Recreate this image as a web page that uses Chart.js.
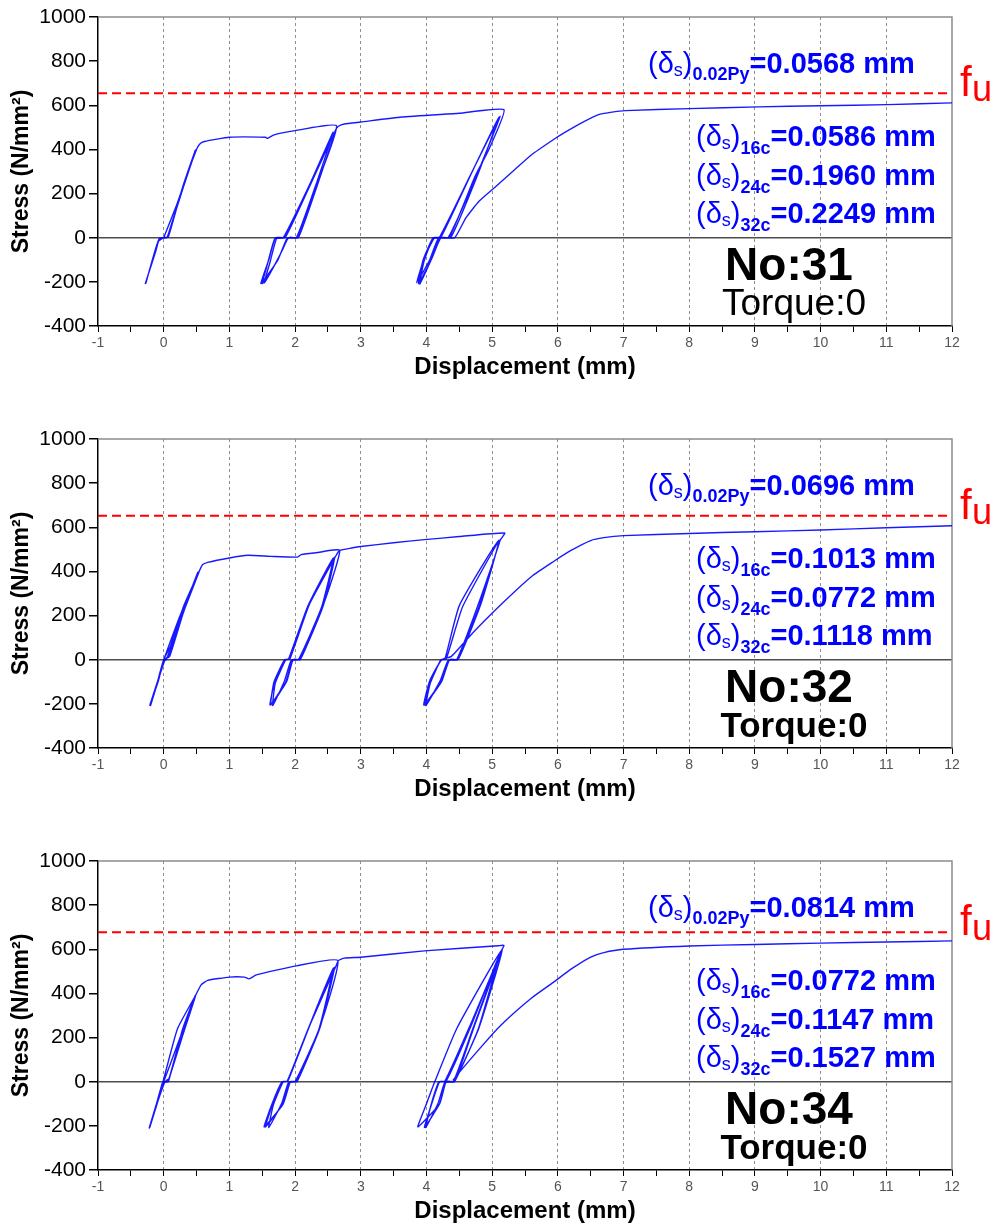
<!DOCTYPE html>
<html lang="en">
<head>
<meta charset="UTF-8">
<title>Stress - Displacement, No:31 / No:32 / No:34</title>
<script src="https://cdn.jsdelivr.net/npm/chart.js"></script>
<style>
  html, body { margin: 0; padding: 0; background: #fff; overflow: hidden; }
  .panel { position: absolute; left: 0; width: 992px; height: 382px; }
</style>
</head>
<body>
<div class="panel" style="top:0"><canvas id="chart31" width="992" height="382"></canvas></div>
<div class="panel" style="top:422px"><canvas id="chart32" width="992" height="382"></canvas></div>
<div class="panel" style="top:844px"><canvas id="chart34" width="992" height="382"></canvas></div>

<script>
// axis ranges
const xMin = -1, xMax = 12, xStep = 0.5;
const yMin = -400, yMax = 1000, yStep = 200;

// No:31 - displacement (mm) / stress (N/mm2)
const disp31 = [
  0.00, 0.20, 0.49, 0.30, 0.10, 0.06, -0.06, -0.12, -0.28,
  -0.16, -0.08, -0.02, 0.05, 0.12, 0.30, 0.48, 0.28, 0.08, 0.05, -0.07, -0.27,
  -0.09, 0.00, 0.07, 0.28, 0.50,
  0.55, 0.62, 1.00, 1.55, 1.58, 1.68, 2.00, 2.63,
  2.32, 2.04, 1.90, 1.80, 1.62, 1.50,
  1.57, 1.69, 1.82, 2.22, 2.58,
  2.30, 2.02, 1.88, 1.74, 1.48,
  1.60, 1.70, 1.84, 2.20, 2.61,
  2.33, 2.05, 1.90, 1.75, 1.53,
  1.62, 1.72, 1.85, 2.24, 2.62,
  2.66, 2.75, 3.00, 3.62, 4.50, 5.18,
  4.95, 4.74, 4.35, 4.20, 4.07, 3.88,
  3.95, 4.10, 4.20, 4.66, 5.12,
  4.76, 4.33, 4.18, 4.05, 3.85,
  3.97, 4.12, 4.22, 4.65, 5.10,
  4.78, 4.37, 4.22, 4.08, 3.90,
  3.96, 4.10, 4.25, 4.43, 4.60, 4.80, 5.06, 5.35, 5.60, 5.93, 6.10, 6.39, 6.62, 6.80, 7.03, 8.00, 9.05, 10.00, 11.02, 12.00
];
const stress31 = [
  0, 150, 398, 230, 40, 2, -2, -60, -208,
  -95, -12, 0, 2, 60, 240, 395, 215, 25, 0, -5, -205,
  -20, 0, 3, 220, 400,
  425, 436, 455, 455, 450, 466, 485, 507,
  233, 2, 0, -60, -160, -208,
  -130, -5, 0, 240, 478,
  225, 0, -2, -100, -208,
  -100, 0, 2, 225, 485,
  230, 0, 0, -90, -205,
  -110, -3, 0, 245, 490,
  505, 515, 524, 547, 564, 580,
  400, 278, 2, 0, -100, -208,
  -100, 0, 3, 278, 550,
  280, 0, -3, -100, -205,
  -90, 0, 2, 270, 545,
  285, 0, 0, -95, -210,
  -110, -5, 0, 0, 90, 165, 233, 310, 376, 444, 476, 525, 558, 568, 576, 585, 593, 598, 603, 611
];

// No:32
const disp32 = [
  0.00, 0.25, 0.54, 0.30, 0.08, 0.02, -0.08, -0.20,
  -0.09, 0.00, 0.04, 0.28, 0.52, 0.29, 0.09, 0.00, -0.09, -0.21,
  -0.08, 0.00, 0.10, 0.30, 0.54,
  0.59, 0.67, 1.00, 1.28, 1.64, 2.04, 2.09, 2.35, 2.68,
  2.42, 2.07, 1.96, 1.86, 1.62,
  1.69, 1.84, 1.90, 2.19, 2.58,
  2.40, 2.05, 1.94, 1.84, 1.66,
  1.70, 1.86, 1.92, 2.21, 2.60,
  2.43, 2.08, 1.97, 1.87, 1.63,
  1.68, 1.84, 1.90, 2.20, 2.62,
  2.68, 2.86, 3.00, 3.50, 3.97, 4.50, 5.19, 5.12,
  4.80, 4.48, 4.35, 4.23, 3.97,
  4.05, 4.23, 4.30, 4.55, 5.12,
  4.77, 4.46, 4.33, 4.21, 3.99,
  4.06, 4.22, 4.28, 4.50, 5.10,
  4.82, 4.48, 4.35, 4.22, 3.96,
  4.05, 4.23, 4.38, 4.70, 5.10, 5.60, 5.93, 6.20, 6.50, 6.70, 7.00, 8.00, 9.00, 10.00, 11.00, 12.00
];
const stress32 = [
  0, 200, 400, 215, 20, 0, -90, -208,
  -100, -5, 0, 205, 398, 205, 15, 0, -95, -205,
  -95, 0, 60, 240, 400,
  430, 441, 461, 473, 468, 465, 476, 486, 495,
  240, 2, 0, -100, -205,
  -100, 0, 2, 240, 460,
  235, 0, -3, -95, -208,
  -105, 0, 3, 245, 465,
  245, 0, 0, -100, -205,
  -100, 0, 2, 240, 470,
  495, 506, 513, 530, 544, 558, 574, 540,
  240, 2, 0, -100, -205,
  -100, 0, 3, 240, 544,
  235, 0, -3, -95, -208,
  -105, 0, 2, 245, 540,
  245, 0, 0, -100, -205,
  -95, 0, 15, 120, 240, 377, 444, 495, 540, 553, 562, 572, 580, 588, 598, 607
];

// No:34
const disp34 = [
  0.00, 0.25, 0.49, 0.29, 0.10, 0.07, 0.00, -0.10, -0.22,
  -0.12, -0.02, 0.00, 0.07, 0.29, 0.48, 0.28, 0.08, 0.02, -0.09, -0.21,
  -0.10, -0.01, 0.21, 0.49,
  0.57, 0.67, 1.00, 1.23, 1.30, 1.41, 2.02, 2.65,
  2.37, 2.02, 1.92, 1.81, 1.55,
  1.66, 1.81, 1.88, 2.20, 2.58,
  2.36, 2.00, 1.90, 1.80, 1.60,
  1.67, 1.82, 1.89, 2.21, 2.60,
  2.38, 2.03, 1.93, 1.82, 1.53,
  1.65, 1.80, 1.88, 2.20, 2.62,
  2.66, 2.75, 3.00, 3.97, 5.09, 5.18, 5.12,
  4.79, 4.43, 4.30, 4.20, 3.97,
  4.08, 4.20, 4.30, 4.66, 5.12,
  4.70, 4.41, 4.28, 4.18, 3.99,
  4.07, 4.19, 4.28, 4.65, 5.14,
  4.72, 4.43, 4.30, 4.20, 3.87,
  4.00, 4.12, 4.46, 5.15,
  4.80, 4.43, 4.41, 4.84, 5.14, 5.60, 5.93, 6.20, 6.50, 6.70, 7.00, 8.00, 9.00, 10.00, 11.00, 12.00
];
const stress34 = [
  0, 200, 394, 210, 30, 0, -3, -100, -210,
  -110, -6, 0, 3, 240, 390, 205, 15, 0, -90, -205,
  -100, 0, 240, 394,
  439, 459, 474, 474, 466, 484, 525, 549,
  240, 2, 0, -100, -205,
  -100, 0, 2, 240, 515,
  235, 0, -3, -95, -208,
  -105, 0, 3, 245, 519,
  245, 0, 0, -100, -205,
  -100, 0, 2, 240, 522,
  549, 560, 564, 593, 616, 618, 580,
  240, 2, 0, -100, -207,
  -100, 0, 3, 240, 582,
  235, 0, -3, -95, -208,
  -105, 0, 2, 245, 590,
  245, 0, 0, -100, -205,
  -100, -5, 240, 598,
  245, 0, 9, 160, 258, 379, 450, 510, 565, 585, 600, 615, 622, 628, 633, 638
];

// per-panel labels (order: No:31, No:32, No:34)
const specimenNo = ['31', '32', '34'];
const fuStress = [654, 652, 677];
const deltaPy = ['0.0568', '0.0696', '0.0814'];
const delta16c = ['0.0586', '0.1013', '0.0772'];
const delta24c = ['0.1960', '0.0772', '0.1147'];
const delta32c = ['0.2249', '0.1118', '0.1527'];
const torqueText = ['Torque:0', 'Torque:0', 'Torque:0'];
const torqueBold = [false, true, true];

const FONT = '"Liberation Sans", Arial, sans-serif';

// gray top/right edges of the plot box
const frame = {
  id: 'frame',
  beforeDatasetsDraw(chart) {
    const { ctx, chartArea: a } = chart;
    ctx.save();
    ctx.strokeStyle = '#8c8c8c';
    ctx.lineWidth = 1.5;
    ctx.beginPath();
    ctx.moveTo(a.left, a.top);
    ctx.lineTo(a.right, a.top);
    ctx.lineTo(a.right, a.bottom);
    ctx.stroke();
    ctx.restore();
  }
};

// draw a run of text pieces one after another (for the subscripts)
function runs(ctx, x, y, parts) {
  for (const [t, font, dy] of parts) {
    ctx.font = font;
    ctx.fillText(t, x, y + (dy || 0));
    x += ctx.measureText(t).width;
  }
}

const notes = {
  id: 'notes',
  afterDraw(chart, args, o) {
    const ctx = chart.ctx;
    const big = '29px ' + FONT, bigB = 'bold 29px ' + FONT;
    const sub = '18px ' + FONT, subB = 'bold 18px ' + FONT;
    const delta = (x, y, idx, val, dy) => runs(ctx, x, y, [
      ['(', big], ['\u03b4', big], ['s', sub, 3], [')', big], [idx, subB, dy], ['=' + val + ' mm', bigB]
    ]);
    ctx.save();
    ctx.textBaseline = 'alphabetic';
    ctx.textAlign = 'left';
    ctx.fillStyle = '#0000ff';
    delta(648, 73, '0.02Py', o.py, 7);
    delta(696, 146, '16c', o.c16, 8);
    delta(696, 185, '24c', o.c24, 8);
    delta(696, 223, '32c', o.c32, 8);

    ctx.fillStyle = '#000';
    ctx.textAlign = 'center';
    ctx.font = 'bold 46px ' + FONT;
    ctx.fillText('No:' + o.no, 789, 280);
    ctx.font = (o.bold ? 'bold 35px ' : '37px ') + FONT;
    ctx.fillText(o.torque, 794, 315);

    // f_u label next to the red line
    const yl = chart.scales.y.getPixelForValue(o.fu);
    ctx.textAlign = 'left';
    ctx.fillStyle = '#ff0000';
    ctx.font = '42px ' + FONT;
    ctx.fillText('f', 960, yl + 3);
    ctx.font = '36px ' + FONT;
    ctx.fillText('u', 972, yl + 8);
    ctx.restore();
  }
};

function build(id, xs, ys, i) {
  const curve = xs.map((x, k) => ({ x: x, y: ys[k] }));
  const fuLine = [{ x: xMin, y: fuStress[i] }, { x: xMax, y: fuStress[i] }];
  return new Chart(document.getElementById(id), {
    type: 'scatter',
    data: {
      datasets: [
        { data: fuLine, showLine: true, borderColor: '#ff0000', borderWidth: 2, borderDash: [9, 5], pointRadius: 0 },
        { data: curve, showLine: true, borderColor: 'rgba(0,0,255,0.9)', borderWidth: 1.4, pointRadius: 0, tension: 0.15 }
      ]
    },
    options: {
      responsive: false,
      animation: false,
      devicePixelRatio: 1,
      layout: { padding: { top: 17, right: 40, left: 0, bottom: 0 } },
      plugins: {
        legend: { display: false },
        tooltip: { enabled: false },
        notes: {
          no: specimenNo[i], torque: torqueText[i], bold: torqueBold[i], fu: fuStress[i],
          py: deltaPy[i], c16: delta16c[i], c24: delta24c[i], c32: delta32c[i]
        }
      },
      scales: {
        x: {
          type: 'linear', min: xMin, max: xMax,
          afterFit: s => { s.height = 56; },
          ticks: {
            stepSize: xStep, autoSkip: false, maxRotation: 0, padding: 3,
            color: '#555', font: { family: FONT, size: 14 },
            callback: v => Number.isInteger(v) ? String(v) : ''
          },
          grid: {
            color: c => (c.tick && Number.isInteger(c.tick.value) && c.tick.value > xMin && c.tick.value < xMax) ? '#8f8f8f' : 'rgba(0,0,0,0)',
            lineWidth: 1, tickColor: '#000', tickLength: 6, tickWidth: 1
          },
          border: { color: '#000', width: 1.5, dash: [3, 3] },
          title: {
            display: true, text: 'Displacement (mm)', color: '#000',
            font: { family: FONT, size: 24, weight: 'bold' }, padding: { top: 0, bottom: 0 }
          }
        },
        y: {
          min: yMin, max: yMax,
          afterFit: s => { s.width = 98; },
          ticks: {
            stepSize: yStep, padding: 3, color: '#000', font: { family: FONT, size: 21 },
            callback: v => String(v)
          },
          grid: {
            color: c => (c.tick && c.tick.value === 0) ? '#4d4d4d' : 'rgba(0,0,0,0)',
            lineWidth: 1.5, tickColor: '#000', tickLength: 9
          },
          border: { color: '#000', width: 1.5 },
          title: {
            display: true, text: 'Stress (N/mm\u00b2)', color: '#000',
            font: { family: FONT, size: 23, weight: 'bold' }, padding: { top: 8, bottom: 0 }
          }
        }
      }
    },
    plugins: [frame, notes]
  });
}

build('chart31', disp31, stress31, 0);
build('chart32', disp32, stress32, 1);
build('chart34', disp34, stress34, 2);
</script>
</body>
</html>
